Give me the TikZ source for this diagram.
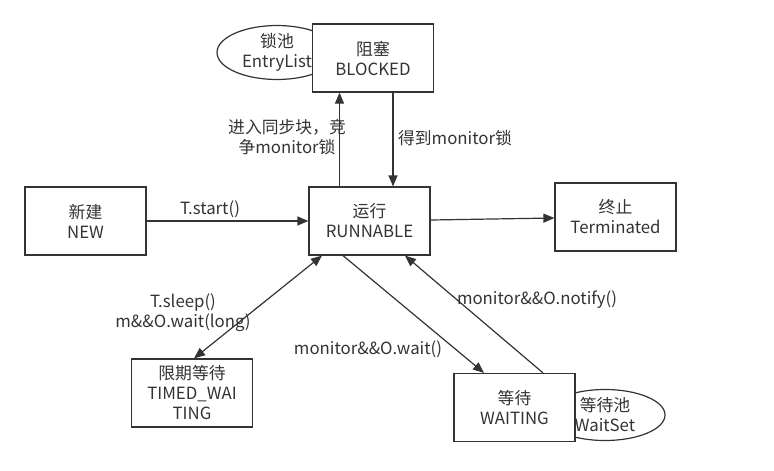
\documentclass[tikz,border=0pt]{standalone}
\usepackage{fontspec}
\setmainfont{Noto Sans CJK SC}
\usepackage{tikz}
\definecolor{ln}{RGB}{51, 51, 51}
\definecolor{tx}{RGB}{51, 51, 51}
\usetikzlibrary{positioning}
\usetikzlibrary{arrows.meta}
\usetikzlibrary{shapes.geometric}
\def\height{68pt}
\def\width{121pt}
\def\labfont{\fontsize{16.8pt}{20pt}\selectfont}
\newcommand{\statenode}[4]{\node[minimum height=\height,minimum width=\width,draw,rectangle,color=ln,fill=white,text=tx,align=center,line width=1.2pt,font=\labfont] (#3) at (#1,#2) {#4};}
\newcommand{\poolnode}[4]{\node[minimum height=51pt,minimum width=120pt,draw,ellipse,color=ln,text=tx,align=center,line width=1.2pt,inner sep=0pt,font=\labfont] (#3) at (#1,#2) {#4};}

\begin{document}
\begin{tikzpicture}[x=1pt,y=-1pt,>={Triangle[length=11pt,width=9pt]}]
\useasboundingbox (0,0) rectangle (774,471);
\poolnode{277}{52.5}{entry}{锁池\\EntryList}
\poolnode{605}{415}{waitset}{等待池\\WaitSet}
\statenode{85.5}{221}{new}{新建\\NEW}
\statenode{373}{58}{blocked}{阻塞\\BLOCKED}
\statenode{369.5}{221}{runnable}{运行\\RUNNABLE}
\statenode{615.5}{217}{term}{终止\\Terminated}
\statenode{192}{393}{timed}{限期等待\\TIMED\_WAI\\TING}
\statenode{514.5}{407.5}{waiting}{等待\\WAITING}

\draw[->,color=ln,line width=1.2pt] (new) -- (runnable);
\draw[->,color=ln,line width=1.2pt] ([xshift=-30pt]runnable.north) -- ([xshift=-30pt]runnable.north |- blocked.south);
\draw[->,color=ln,line width=1.2pt] ([xshift=20pt]blocked.south) -- ([xshift=20pt]blocked.south |- runnable.north);
\draw[->,color=ln,line width=1.2pt] (runnable) -- (term);
\draw[<->,color=ln,line width=1.2pt] ([xshift=2pt]timed.north) -- ([xshift=-47.5pt]runnable.south);
\draw[->,color=ln,line width=1.2pt] ([xshift=-26.5pt]runnable.south) -- ([xshift=-30.5pt]waiting.north);
\draw[->,color=ln,line width=1.2pt] ([xshift=28.5pt]waiting.north) -- ([xshift=35.5pt]runnable.south);

\node[text=tx,align=center,font=\labfont] (start) at (210,209) {T.start()};
\node[text=tx,align=center,font=\labfont] (enter) at (287,137.5) {进入同步块，竞\\争monitor锁};
\node[text=tx,align=center,font=\labfont] (got) at (455,138) {得到monitor锁};
\node[text=tx,align=center,font=\labfont] (sleep) at (183,312.5) {T.sleep()\\m\&\&O.wait(long)};
\node[text=tx,align=center,font=\labfont] (wait) at (368,349) {monitor\&\&O.wait()};
\node[text=tx,align=center,font=\labfont] (notify) at (537,300) {monitor\&\&O.notify()};
\end{tikzpicture}
\end{document}
